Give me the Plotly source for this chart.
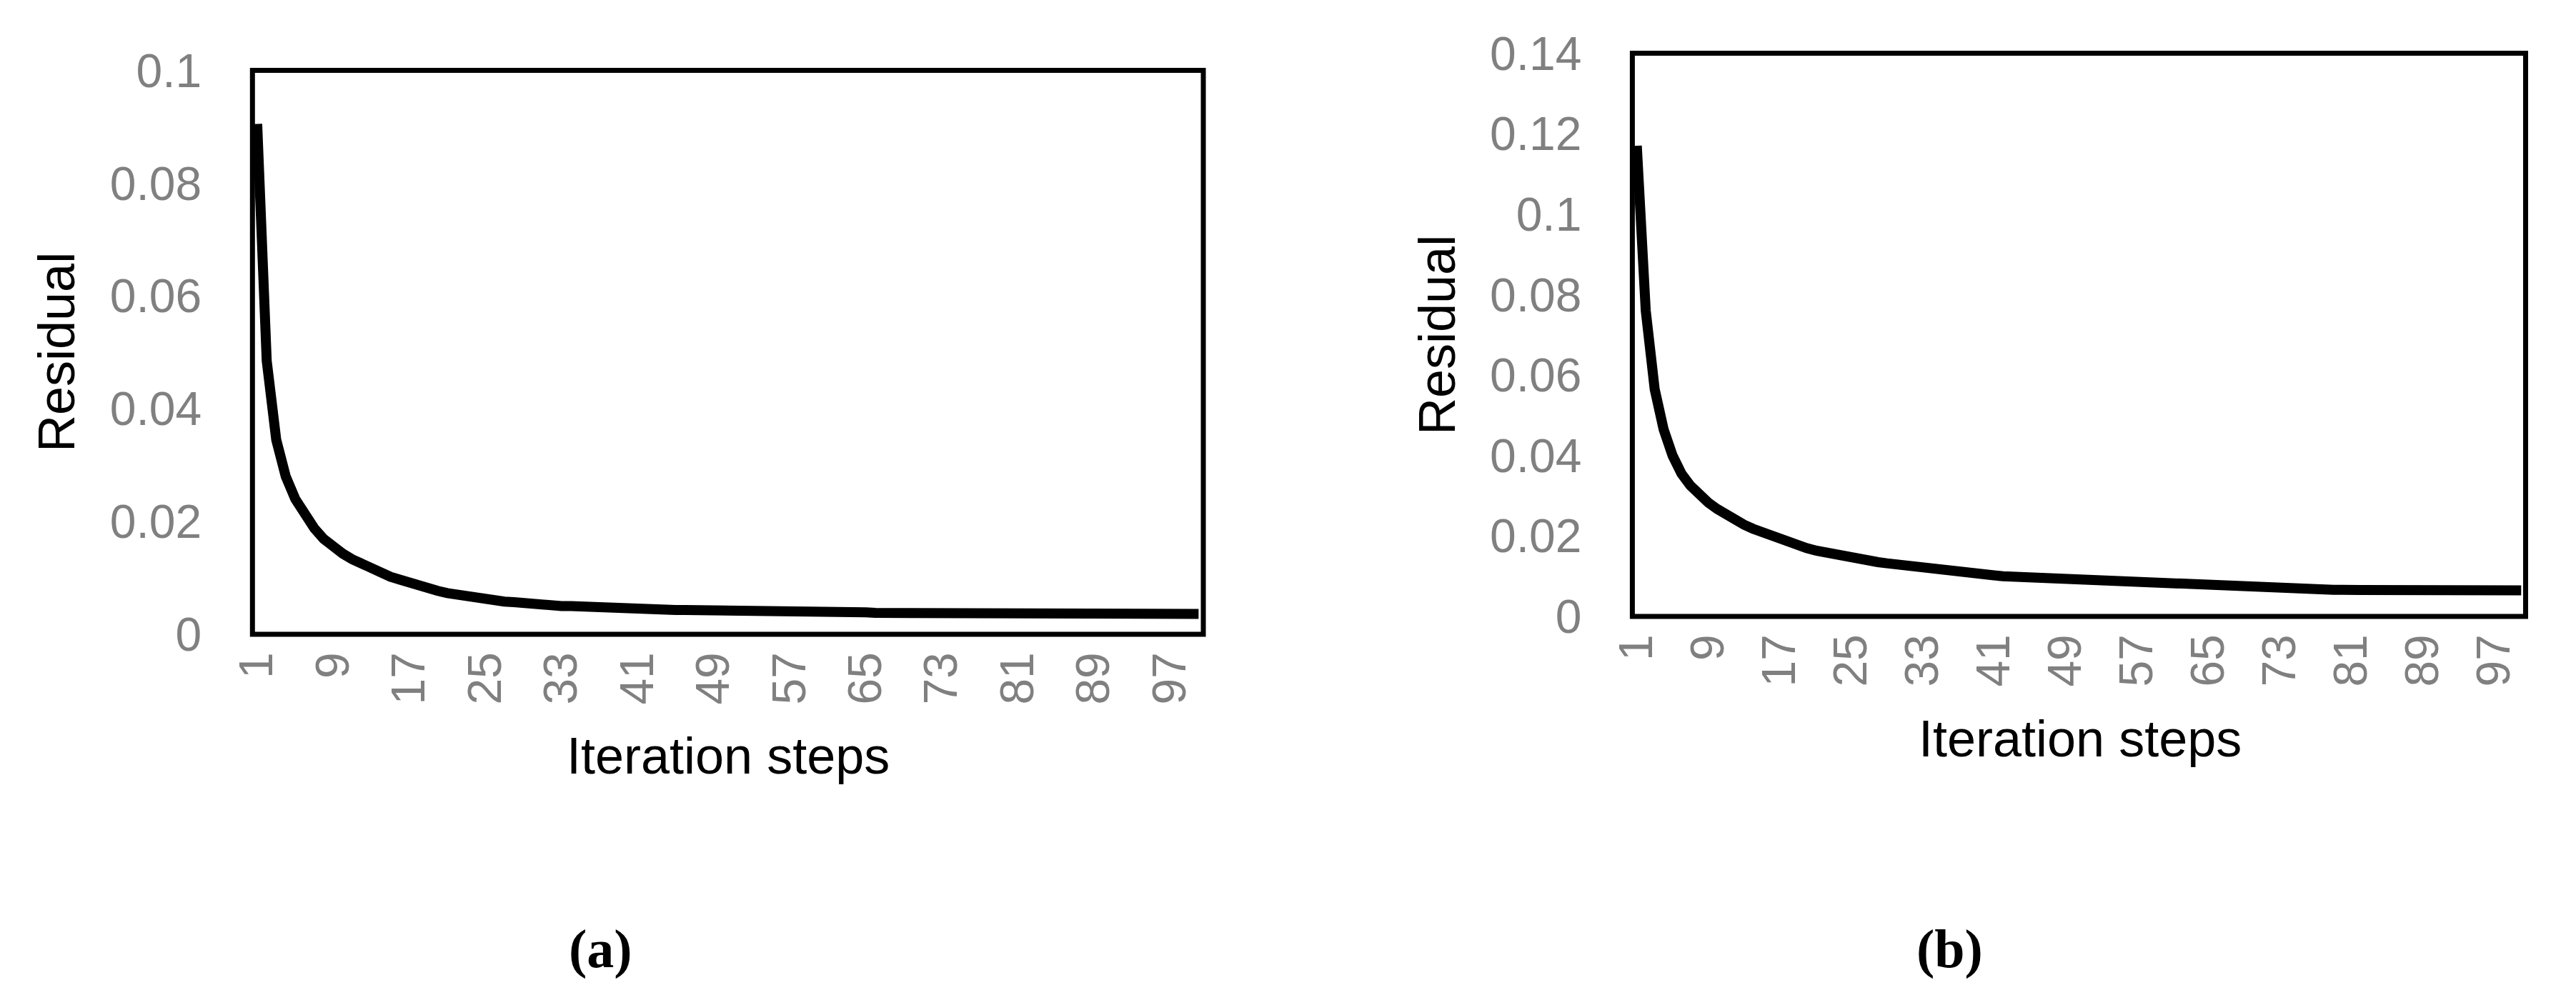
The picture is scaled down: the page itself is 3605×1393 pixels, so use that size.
import plotly.graph_objects as go

steps = list(range(1, 101))

residual_a = [
    0.0905, 0.0485, 0.0345, 0.0280, 0.0240, 0.0211, 0.0188, 0.0169, 0.0155, 0.0143,
    0.0133, 0.0124, 0.0116, 0.0109, 0.0102, 0.0097, 0.0091, 0.0085, 0.0081, 0.0077,
    0.0073, 0.0070, 0.0067, 0.0064, 0.0062, 0.0060, 0.0058, 0.0057, 0.0055, 0.0054,
    0.0052, 0.0051, 0.0050, 0.0050, 0.0049, 0.0048, 0.0047, 0.0047, 0.0046, 0.0046,
    0.0045, 0.0045, 0.0044, 0.0044, 0.0043, 0.0043, 0.0043, 0.0042, 0.0042, 0.0042,
    0.0042, 0.0041, 0.0041, 0.0040, 0.0040, 0.0040, 0.0040, 0.0040, 0.0039, 0.0039,
    0.0039, 0.0039, 0.0039, 0.0039, 0.0039, 0.0038, 0.0038, 0.0038, 0.0038, 0.0038,
    0.0038, 0.0038, 0.0038, 0.0038, 0.0037, 0.0037, 0.0037, 0.0037, 0.0037, 0.0037,
    0.0037, 0.0037, 0.0037, 0.0037, 0.0037, 0.0037, 0.0037, 0.0037, 0.0037, 0.0037,
    0.0036, 0.0036, 0.0036, 0.0036, 0.0036, 0.0036, 0.0036, 0.0036, 0.0036, 0.0036,
]

residual_b = [
    0.1170, 0.0760, 0.0565, 0.0465, 0.0400, 0.0355, 0.0325, 0.0300, 0.0283, 0.0267,
    0.0252, 0.0239, 0.0228, 0.0218, 0.0209, 0.0200, 0.0192, 0.0184, 0.0177, 0.0170,
    0.0164, 0.0159, 0.0155, 0.0150, 0.0146, 0.0142, 0.0138, 0.0135, 0.0132, 0.0129,
    0.0126, 0.0123, 0.0121, 0.0118, 0.0116, 0.0113, 0.0111, 0.0108, 0.0106, 0.0104,
    0.0102, 0.0100, 0.0099, 0.0097, 0.0096, 0.0095, 0.0094, 0.0093, 0.0093, 0.0092,
    0.0091, 0.0089, 0.0088, 0.0086, 0.0085, 0.0084, 0.0083, 0.0081, 0.0080, 0.0079,
    0.0078, 0.0077, 0.0076, 0.0075, 0.0074, 0.0073, 0.0072, 0.0071, 0.0070, 0.0069,
    0.0069, 0.0068, 0.0068, 0.0067, 0.0067, 0.0067, 0.0066, 0.0066, 0.0066, 0.0066,
    0.0066, 0.0066, 0.0066, 0.0066, 0.0066, 0.0066, 0.0065, 0.0065, 0.0065, 0.0065,
    0.0065, 0.0065, 0.0065, 0.0065, 0.0065, 0.0065, 0.0065, 0.0065, 0.0065, 0.0065,
]

x_tick_vals = [1, 9, 17, 25, 33, 41, 49, 57, 65, 73, 81, 89, 97]
x_tick_text = [str(v) for v in x_tick_vals]
y_ticks_a = [0, 0.02, 0.04, 0.06, 0.08, 0.1]
y_ticks_a_text = ["0", "0.02", "0.04", "0.06", "0.08", "0.1"]
y_ticks_b = [0, 0.02, 0.04, 0.06, 0.08, 0.1, 0.12, 0.14]
y_ticks_b_text = ["0", "0.02", "0.04", "0.06", "0.08", "0.1", "0.12", "0.14"]

x_title = "Iteration steps"
y_title = "Residual"
panel_labels = ["(a)", "(b)"]

W, H = 3605, 1393
OFF = 8  # default page margin of the html body
TICK_FONT = dict(family="Liberation Sans, Arial, sans-serif", size=66, color="#808080")
TITLE_FONT = dict(family="Liberation Sans, Arial, sans-serif", size=72, color="black")
PANEL_FONT = dict(family="Liberation Serif, Times New Roman, serif", size=76, color="black")


def px(x):
    return (x - OFF) / W


def py(y):
    return 1 - (y - OFF) / H


fig = go.Figure()
fig.add_trace(go.Scatter(x=steps, y=residual_a, mode="lines",
                         line=dict(color="black", width=14), xaxis="x", yaxis="y",
                         showlegend=False, hoverinfo="skip"))
fig.add_trace(go.Scatter(x=steps, y=residual_b, mode="lines",
                         line=dict(color="black", width=14), xaxis="x2", yaxis="y2",
                         showlegend=False, hoverinfo="skip"))

# plot-area boxes (pixels in the reference)
boxA = (353.3, 1684.0, 98.5, 888.0)
boxB = (2284.4, 3534.5, 74.5, 863.0)


def dom(box):
    x0, x1, yt, yb = box
    return [px(x0), px(x1)], [py(yb), py(yt)]


dxA, dyA = dom(boxA)
dxB, dyB = dom(boxB)

xcommon = dict(range=[0.5, 100.5], tickmode="array", tickvals=x_tick_vals,
               ticktext=x_tick_text, tickangle=-90, tickfont=TICK_FONT,
               showgrid=False, zeroline=False, showline=False, ticks="",
               ticklabelstandoff=11, fixedrange=True, automargin=False)
ycommon = dict(tickmode="array", tickfont=TICK_FONT, showgrid=False,
               zeroline=False, showline=False, ticks="", ticklabelstandoff=70,
               fixedrange=True, automargin=False)

fig.update_layout(
    template="none",
    width=W, height=H,
    margin=dict(l=0, r=0, t=0, b=0, pad=0, autoexpand=False),
    paper_bgcolor="white", plot_bgcolor="white",
    xaxis=dict(domain=dxA, anchor="y", **xcommon),
    yaxis=dict(domain=dyA, anchor="x", range=[0, 0.1], tickvals=y_ticks_a,
               ticktext=y_ticks_a_text, **ycommon),
    xaxis2=dict(domain=dxB, anchor="y2", **xcommon),
    yaxis2=dict(domain=dyB, anchor="x2", range=[0, 0.14], tickvals=y_ticks_b,
                ticktext=y_ticks_b_text, **ycommon),
)

for xr, yr in (("x", "y"), ("x2", "y2")):
    fig.add_shape(type="rect", xref=f"{xr} domain", yref=f"{yr} domain",
                  x0=0, x1=1, y0=0, y1=1, line=dict(color="black", width=7),
                  fillcolor="rgba(0,0,0,0)", layer="above")

# axis titles
for cx, cy in ((79, 493), (2011, 469)):
    fig.add_annotation(text=y_title, x=px(cx), y=py(cy), xref="paper", yref="paper",
                       textangle=-90, showarrow=False, font=TITLE_FONT,
                       xanchor="center", yanchor="middle")
for cx, cy in ((1019, 1058), (2911, 1034)):
    fig.add_annotation(text=x_title, x=px(cx), y=py(cy), xref="paper", yref="paper",
                       showarrow=False, font=TITLE_FONT, xanchor="center", yanchor="middle")

for (cx, cy), lab in zip(((840, 1328), (2728, 1328)), panel_labels):
    fig.add_annotation(text=f"<b>{lab}</b>", x=px(cx), y=py(cy), xref="paper",
                       yref="paper", showarrow=False, font=PANEL_FONT,
                       xanchor="center", yanchor="middle")

fig.write_html("out.html")
